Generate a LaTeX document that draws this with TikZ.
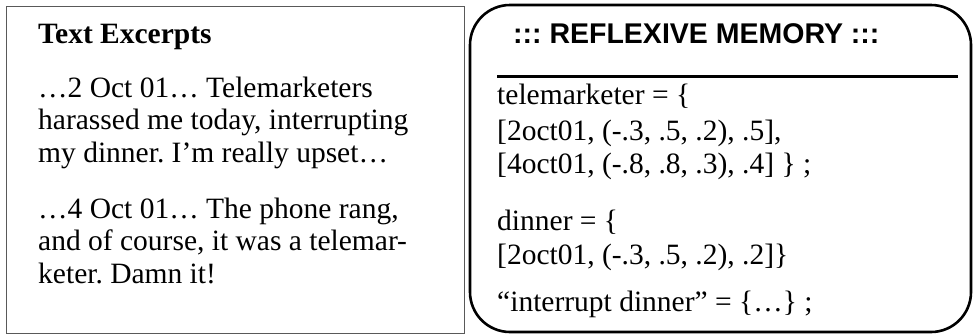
\documentclass[tikz,border=0pt]{standalone}
\usepackage{fontspec}
\setmainfont{Liberation Serif}
\setsansfont{Liberation Sans}
\usepackage{tikz}
\usetikzlibrary{positioning}
\frenchspacing
\tikzset{
    line/.style={anchor=base west, inner sep=0pt, font=\fontsize{29.5}{32}\selectfont},
    headline/.style={line, font=\fontsize{29.5}{32}\selectfont\bfseries},
    memhead/.style={line, font=\fontsize{28.5}{32}\selectfont\sffamily\bfseries},
    excerptbox/.style={draw=black!65, line width=0.9pt},
    memorybox/.style={draw=black, line width=2.6pt, rounded corners=40pt}
}

\begin{document}
\begin{tikzpicture}[x=1pt, y=-1pt]
    \useasboundingbox (0,0) rectangle (973,335);

    % left box: diary excerpts
    \draw[excerptbox] (6,6) rectangle (464,333);
    \node[headline] (exhead) at (38,43) {Text Excerpts};
    \node[line] (ex1a) at (38,97)  {…2 Oct 01… Telemarketers};
    \node[line] (ex1b) at (38,129) {harassed me today, interrupting};
    \node[line] (ex1c) at (38,162) {my dinner. I’m really upset…};
    \node[line] (ex2a) at (38,218) {…4 Oct 01… The phone rang,};
    \node[line] (ex2b) at (38,250) {and of course, it was a telemar-};
    \node[line] (ex2c) at (38,283) {keter. Damn it!};

    % right box: memory entries
    \draw[memorybox] (470,5) rectangle (971,332);
    \node[memhead] (memhead) at (513,43) {::: REFLEXIVE MEMORY :::};
    \coordinate (rulel) at (497,76);
    \coordinate (ruler) at (958,76);
    \draw[line width=3pt] (rulel) -- (ruler);
    \node[line] (tel1) at (497,104) {telemarketer = \{};
    \node[line] (tel2) at (497,140) {[2oct01, (-.3, .5, .2), .5],};
    \node[line] (tel3) at (497,173) {[4oct01, (-.8, .8, .3), .4] \} ;};
    \node[line] (din1) at (497,230) {dinner = \{};
    \node[line] (din2) at (497,264) {[2oct01, (-.3, .5, .2), .2]\}};
    \node[line] (intr) at (497,311) {“interrupt dinner” = \{…\} ;};
\end{tikzpicture}
\end{document}
